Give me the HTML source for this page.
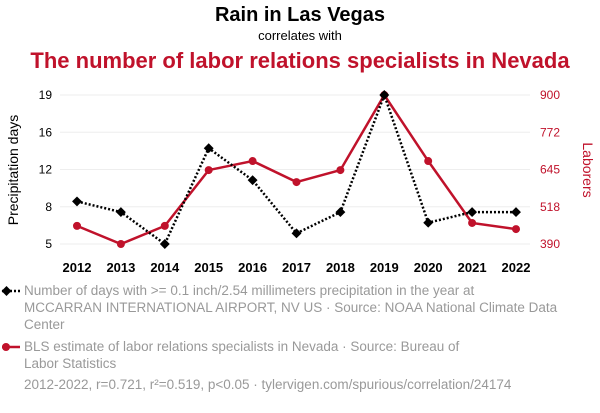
<!DOCTYPE html>
<html><head><meta charset="utf-8"><style>
body{margin:0;background:#fff;font-family:"Liberation Sans",sans-serif;}
svg text{font-family:"Liberation Sans",sans-serif;}
</style></head><body>
<svg id="c" width="600" height="408">
<text x="300" y="21" text-anchor="middle" font-size="20" font-weight="bold" fill="#000">Rain in Las Vegas</text>
<text x="300" y="40" text-anchor="middle" font-size="13" fill="#000">correlates with</text>
<text x="300" y="68" text-anchor="middle" font-size="22" font-weight="bold" fill="#c0122b">The number of labor relations specialists in Nevada</text>
<text transform="translate(18,170) rotate(-90)" text-anchor="middle" font-size="14" fill="#000">Precipitation days</text>
<text transform="translate(583,170) rotate(90)" text-anchor="middle" font-size="14" fill="#c0122b">Laborers</text>
<g id="grid"></g><g id="axes"></g><g id="series"></g>
<g>
<line x1="2" y1="291" x2="20" y2="291" stroke="#000" stroke-width="2.5" stroke-dasharray="2,2"/>
<rect x="3" y="287.5" width="7" height="7" transform="rotate(45 6.5 291)" fill="#000"/>
<text font-size="13.5" fill="#999"><tspan x="24" y="295">Number of days with &gt;= 0.1 inch/2.54 millimeters precipitation in the year at</tspan><tspan x="24" y="312">MCCARRAN INTERNATIONAL AIRPORT, NV US · Source: NOAA National Climate Data</tspan><tspan x="24" y="329">Center</tspan></text>
<line x1="2" y1="347" x2="20" y2="347" stroke="#c0122b" stroke-width="2.5"/>
<circle cx="6" cy="347" r="4" fill="#c0122b"/>
<text font-size="13.5" fill="#999"><tspan x="24" y="351">BLS estimate of labor relations specialists in Nevada · Source: Bureau of</tspan><tspan x="24" y="368">Labor Statistics</tspan></text>
<text x="24" y="389" font-size="13.5" fill="#999">2012-2022, r=0.721, r²=0.519, p&lt;0.05 · tylervigen.com/spurious/correlation/24174</text>
</g>
</svg>
<script>
const years=[2012,2013,2014,2015,2016,2017,2018,2019,2020,2021,2022];
const rain=[9,8,5,14,11,6,8,19,7,8,8];
const laborers=[452,390,452,643,674,602,643,900,674,462,441];
const leftTicks=[5,8.5,12,15.5,19];
const leftLabels=["5","8","12","16","19"];
const rightTicks=[390,517.5,645,772.5,900];
const rightLabels=["390","518","645","772","900"];
const NS="http://www.w3.org/2000/svg";
const x=y=>77+(y-2012)*(516-77)/10;
const yl=v=>244-(v-5)*(244-95)/14;
const yr=v=>244-(v-390)*(244-95)/510;
function mk(t,a,p){const e=document.createElementNS(NS,t);for(const k in a)e.setAttribute(k,a[k]);document.getElementById(p).appendChild(e);return e;}
leftTicks.forEach((t,i)=>{
 const g=mk('line',{x1:60,x2:530,y1:yl(t),y2:yl(t),stroke:'#eee','stroke-width':1},'grid');
 
 
 const a=mk('text',{x:52,y:yl(t)+4,'text-anchor':'end','font-size':12,fill:'#000'},'axes');a.textContent=leftLabels[i];
 
 
});
rightTicks.forEach((t,i)=>{
 const a=mk('text',{x:540,y:yr(t)+4,'font-size':12,fill:'#c0122b'},'axes');a.textContent=rightLabels[i];
 
 
});
years.forEach(y=>{
 const a=mk('text',{x:x(y),y:272,'text-anchor':'middle','font-size':13,'font-weight':'bold',fill:'#000'},'axes');a.textContent=y;
 
 
});
const rp=mk('polyline',{points:years.map((y,i)=>x(y)+','+yr(laborers[i])).join(' '),fill:'none',stroke:'#c0122b','stroke-width':2.5},'series');


const bp=mk('polyline',{points:years.map((y,i)=>x(y)+','+yl(rain[i])).join(' '),fill:'none',stroke:'#000','stroke-width':2.5,'stroke-dasharray':'2,2'},'series');


years.forEach((y,i)=>{
 const c=mk('circle',{cx:x(y),cy:yr(laborers[i]),r:4,fill:'#c0122b'},'series');
 
 
 const px=x(y),py=yl(rain[i]);
 const d=mk('rect',{x:px-3.5,y:py-3.5,width:7,height:7,fill:'#000',transform:`rotate(45 ${px} ${py})`},'series');
 
 
});
</script>
</body></html>
